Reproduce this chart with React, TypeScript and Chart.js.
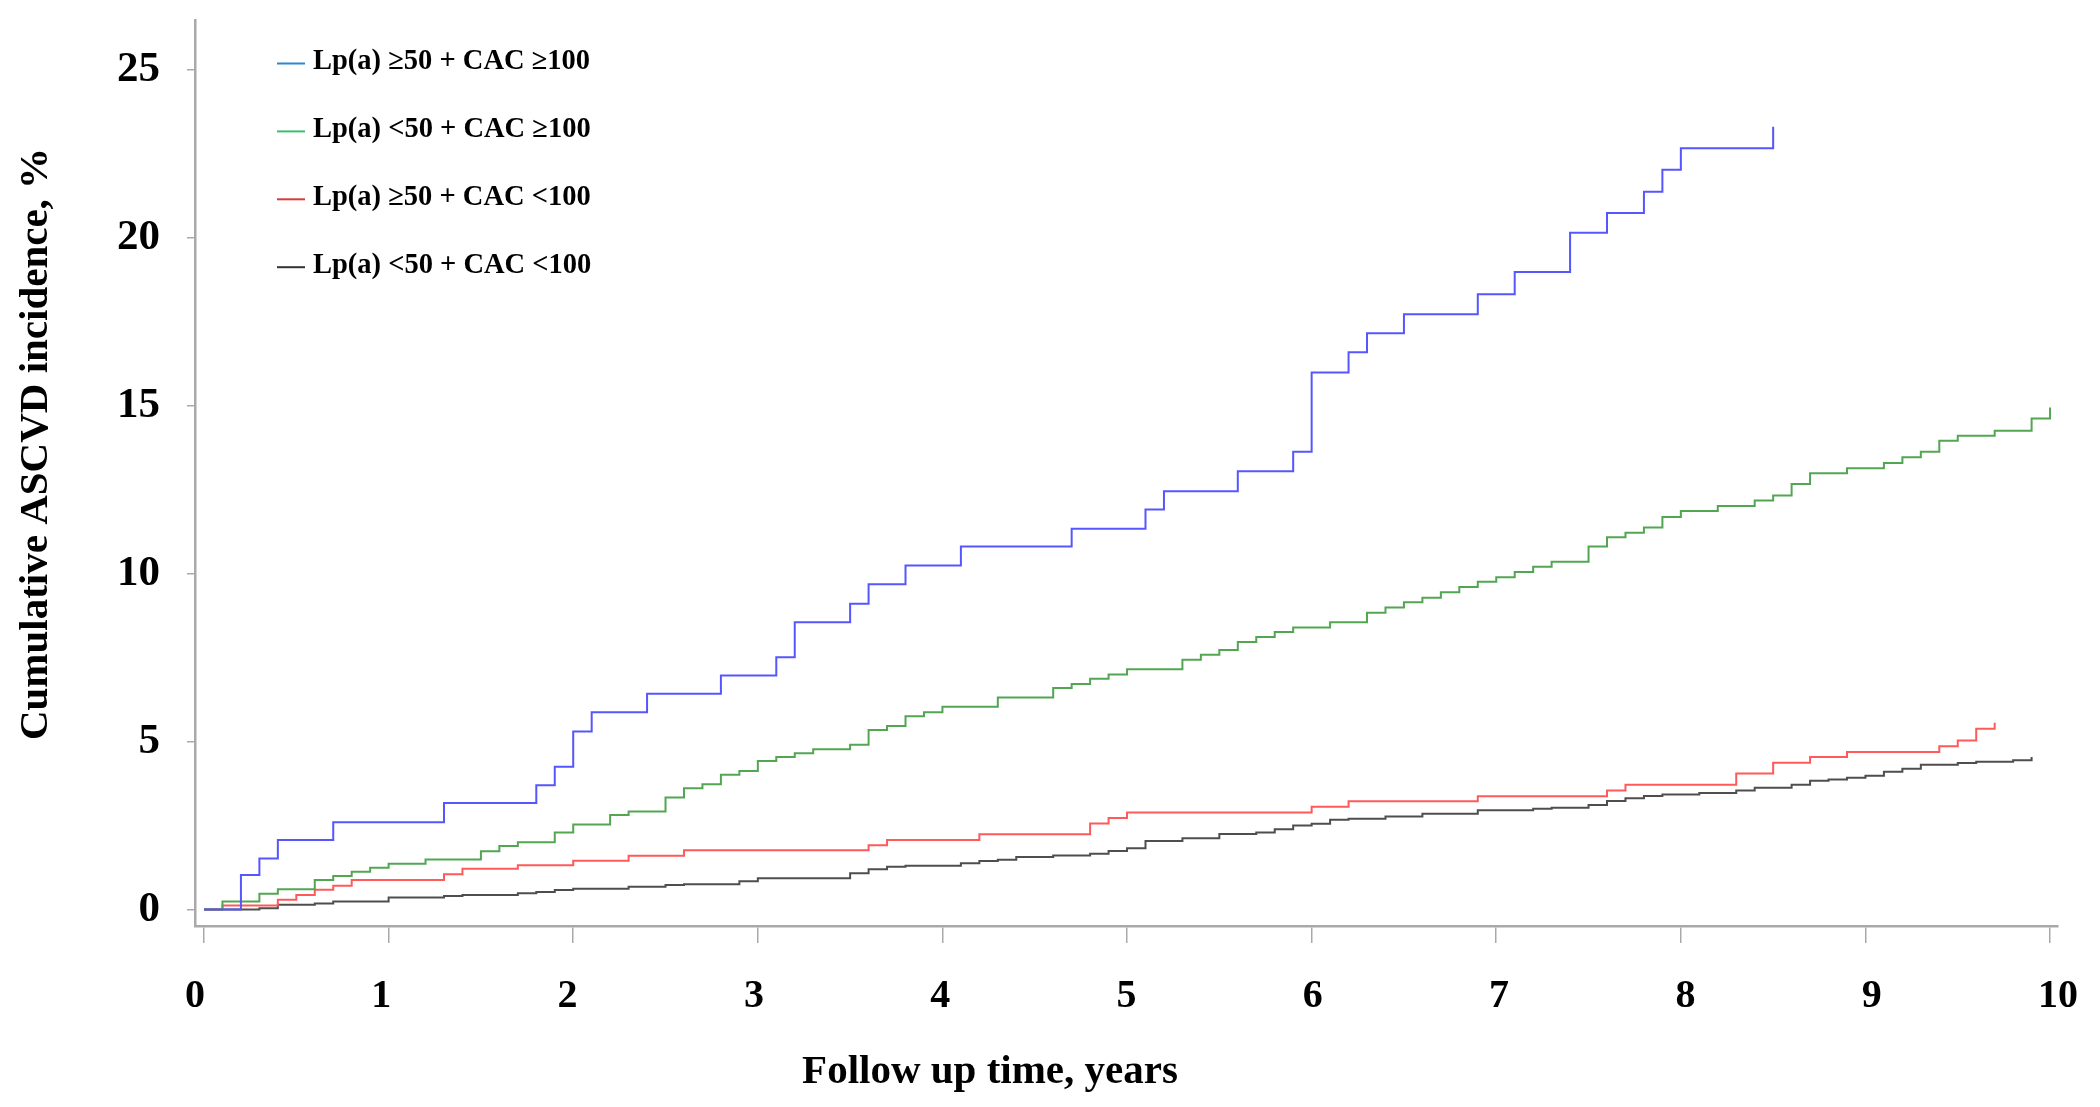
import React, { useEffect, useRef } from 'react';
import { Chart, registerables } from 'chart.js';

Chart.register(...registerables);

// ---- Data (years, cumulative incidence %) ----
const blueTimes = [0, 0.2, 0.3, 0.4, 0.7, 1.3, 1.8, 1.9, 2.0, 2.1, 2.4, 2.8, 3.1, 3.2, 3.5, 3.6, 3.8, 4.1, 4.7, 5.1, 5.2, 5.6, 5.9, 6.0, 6.2, 6.3, 6.5, 6.9, 7.1, 7.4, 7.6, 7.8, 7.9, 8.0, 8.5];
const blueValues = [0, 1.03, 1.52, 2.07, 2.6, 3.17, 3.7, 4.25, 5.3, 5.87, 6.42, 6.96, 7.51, 8.55, 9.1, 9.68, 10.24, 10.8, 11.33, 11.9, 12.45, 13.04, 13.62, 15.98, 16.58, 17.15, 17.71, 18.31, 18.97, 20.14, 20.73, 21.36, 22.01, 22.65, 23.29];

const greenTimes = [0, 0.1, 0.3, 0.4, 0.6, 0.7, 0.8, 0.9, 1.0, 1.2, 1.5, 1.6, 1.7, 1.9, 2.0, 2.2, 2.3, 2.5, 2.6, 2.7, 2.8, 2.9, 3.0, 3.1, 3.2, 3.3, 3.5, 3.6, 3.7, 3.8, 3.9, 4.0, 4.3, 4.6, 4.7, 4.8, 4.9, 5.0, 5.3, 5.4, 5.5, 5.6, 5.7, 5.8, 5.9, 6.1, 6.3, 6.4, 6.5, 6.6, 6.7, 6.8, 6.9, 7.0, 7.1, 7.2, 7.3, 7.5, 7.6, 7.7, 7.8, 7.9, 8.0, 8.2, 8.4, 8.5, 8.6, 8.7, 8.9, 9.1, 9.2, 9.3, 9.4, 9.5, 9.7, 9.9, 10.0];
const greenValues = [0, 0.24, 0.47, 0.6, 0.88, 1.0, 1.12, 1.24, 1.36, 1.49, 1.73, 1.89, 2.0, 2.29, 2.53, 2.81, 2.92, 3.33, 3.61, 3.73, 4.01, 4.12, 4.42, 4.54, 4.65, 4.77, 4.9, 5.34, 5.46, 5.75, 5.87, 6.03, 6.31, 6.59, 6.71, 6.87, 6.99, 7.15, 7.43, 7.58, 7.72, 7.96, 8.11, 8.26, 8.39, 8.55, 8.83, 8.99, 9.14, 9.28, 9.44, 9.6, 9.75, 9.89, 10.04, 10.2, 10.35, 10.8, 11.08, 11.21, 11.37, 11.68, 11.86, 12.01, 12.17, 12.32, 12.66, 12.98, 13.13, 13.29, 13.46, 13.62, 13.95, 14.1, 14.25, 14.61, 14.94];

const redTimes = [0, 0.1, 0.4, 0.5, 0.6, 0.7, 0.8, 1.3, 1.4, 1.7, 2.0, 2.3, 2.6, 3.6, 3.7, 4.2, 4.8, 4.9, 5.0, 6.0, 6.2, 6.9, 7.6, 7.7, 8.3, 8.5, 8.7, 8.9, 9.4, 9.5, 9.6, 9.7];
const redValues = [0, 0.12, 0.29, 0.43, 0.59, 0.71, 0.88, 1.05, 1.21, 1.32, 1.45, 1.6, 1.76, 1.91, 2.07, 2.24, 2.56, 2.72, 2.89, 3.06, 3.22, 3.37, 3.54, 3.71, 4.05, 4.37, 4.54, 4.69, 4.86, 5.03, 5.38, 5.56];

const blackTimes = [0, 0.3, 0.4, 0.6, 0.7, 1.0, 1.3, 1.4, 1.7, 1.8, 1.9, 2.0, 2.3, 2.5, 2.6, 2.9, 3.0, 3.5, 3.6, 3.7, 3.8, 4.1, 4.2, 4.3, 4.4, 4.6, 4.8, 4.9, 5.0, 5.1, 5.3, 5.5, 5.7, 5.8, 5.9, 6.0, 6.1, 6.2, 6.4, 6.6, 6.9, 7.2, 7.3, 7.5, 7.6, 7.7, 7.8, 7.9, 8.1, 8.3, 8.4, 8.6, 8.7, 8.8, 8.9, 9.0, 9.1, 9.2, 9.3, 9.5, 9.6, 9.8, 9.9];
const blackValues = [0, 0.04, 0.14, 0.18, 0.24, 0.36, 0.4, 0.43, 0.48, 0.52, 0.58, 0.62, 0.68, 0.73, 0.75, 0.84, 0.93, 1.08, 1.2, 1.27, 1.3, 1.38, 1.44, 1.48, 1.56, 1.61, 1.66, 1.74, 1.82, 2.04, 2.12, 2.25, 2.29, 2.39, 2.5, 2.55, 2.67, 2.7, 2.77, 2.85, 2.95, 3.0, 3.03, 3.11, 3.23, 3.31, 3.38, 3.42, 3.47, 3.54, 3.62, 3.71, 3.83, 3.87, 3.92, 3.98, 4.1, 4.19, 4.31, 4.36, 4.4, 4.44, 4.54];

const seriesLabels = [
  'Lp(a) \u226550 + CAC \u2265100',
  'Lp(a) <50 + CAC \u2265100',
  'Lp(a) \u226550 + CAC <100',
  'Lp(a) <50 + CAC <100',
];
const xTickValues = [0, 1, 2, 3, 4, 5, 6, 7, 8, 9, 10];
const xTickLabels = ['0', '1', '2', '3', '4', '5', '6', '7', '8', '9', '10'];
const yTickValues = [0, 5, 10, 15, 20, 25];
const xAxisTitle = 'Follow up time, years';
const yAxisTitle = 'Cumulative ASCVD incidence, %';

// ---- Styles ----
const lineColors = ['#5656ff', '#52a652', '#ff5a5a', '#4e4e4e'];
const legendColors = ['#2f86d2', '#3cbf6c', '#d93a3a', '#333333'];
const FONT = '"Liberation Serif", "Times New Roman", serif';
const AXIS_GREY = '#a9a9a9';

const toPoints = (t: number[], v: number[]) => t.map((x, i) => ({ x, y: v[i] }));

export default function App() {
  const canvasRef = useRef<HTMLCanvasElement | null>(null);

  useEffect(() => {
    const canvas = canvasRef.current;
    if (!canvas) return;

    const overlay = {
      id: 'overlayText',
      afterDraw(chart: any) {
        const ctx = chart.ctx;
        const area = chart.chartArea;
        ctx.save();
        // legend
        ctx.font = `bold 28.5px ${FONT}`;
        ctx.textAlign = 'left';
        ctx.textBaseline = 'middle';
        seriesLabels.forEach((label, i) => {
          const y = area.top + 42 + i * 67.9;
          ctx.strokeStyle = legendColors[i];
          ctx.lineWidth = 2;
          ctx.beginPath();
          ctx.moveTo(area.left + 82, y + 1.5);
          ctx.lineTo(area.left + 110, y + 1.5);
          ctx.stroke();
          ctx.fillStyle = '#000';
          ctx.fillText(label, area.left + 118, y);
        });
        // x axis title
        ctx.font = `bold 41px ${FONT}`;
        ctx.textAlign = 'center';
        ctx.fillStyle = '#000';
        ctx.fillText(xAxisTitle, 990, 1072);
        // y axis title
        ctx.translate(36, 444);
        ctx.rotate(-Math.PI / 2);
        ctx.fillText(yAxisTitle, 0, 0);
        ctx.restore();
      },
    };

    const chart = new Chart(canvas, {
      type: 'line',
      data: {
        datasets: [
          { label: seriesLabels[0], data: toPoints(blueTimes, blueValues), borderColor: lineColors[0] },
          { label: seriesLabels[1], data: toPoints(greenTimes, greenValues), borderColor: lineColors[1] },
          { label: seriesLabels[2], data: toPoints(redTimes, redValues), borderColor: lineColors[2] },
          { label: seriesLabels[3], data: toPoints(blackTimes, blackValues), borderColor: lineColors[3] },
        ].map((d) => ({
          ...d,
          stepped: true,
          borderWidth: 2,
          pointRadius: 0,
          fill: false,
          tension: 0,
          xAxisID: 'x',
          yAxisID: 'y',
        })) as any,
      },
      options: {
        responsive: false,
        animation: false,
        devicePixelRatio: 1,
        layout: { padding: { top: 20, right: 42, bottom: 0, left: 0 } },
        plugins: {
          legend: { display: false },
          tooltip: { enabled: false },
          title: { display: false },
        },
        scales: {
          x: {
            type: 'linear',
            position: 'bottom',
            weight: 0,
            min: -0.0488,
            max: 10.043,
            afterBuildTicks: (s: any) => {
              s.ticks = xTickValues.map((v) => ({ value: v }));
            },
            afterFit: (s: any) => {
              s.height = 17;
              s.paddingLeft = 0;
              s.paddingRight = 0;
            },
            ticks: { display: false },
            grid: {
              drawOnChartArea: false,
              drawTicks: true,
              tickLength: 17,
              color: AXIS_GREY,
              tickColor: AXIS_GREY,
              lineWidth: 1.5,
            },
            border: { display: true, color: AXIS_GREY, width: 2.5 },
          },
          x2: {
            type: 'linear',
            position: 'bottom',
            weight: 1,
            min: 0,
            max: 10,
            afterBuildTicks: (s: any) => {
              s.ticks = xTickValues.map((v) => ({ value: v }));
            },
            afterFit: (s: any) => {
              s.height = 164;
              s.paddingLeft = 0;
              s.paddingRight = 0;
            },
            ticks: {
              padding: 30,
              autoSkip: false,
              maxRotation: 0,
              color: '#000',
              font: { family: FONT, size: 40, weight: 'bold' },
              callback: (v: any) => xTickLabels[xTickValues.indexOf(Number(v))] ?? '',
            },
            grid: { display: false, drawTicks: false, drawOnChartArea: false },
            border: { display: false },
          },
          y: {
            type: 'linear',
            position: 'left',
            min: -0.491,
            max: 26.47,
            afterBuildTicks: (s: any) => {
              s.ticks = yTickValues.map((v) => ({ value: v }));
            },
            afterFit: (s: any) => {
              s.width = 195;
              s.paddingTop = 0;
              s.paddingBottom = 0;
            },
            ticks: {
              padding: 27,
              autoSkip: false,
              color: '#000',
              font: { family: FONT, size: 43, weight: 'bold' },
            },
            grid: {
              drawOnChartArea: false,
              drawTicks: true,
              tickLength: 8,
              color: AXIS_GREY,
              tickColor: AXIS_GREY,
              lineWidth: 1.5,
            },
            border: { display: true, color: AXIS_GREY, width: 2.5 },
          },
        },
      } as any,
      plugins: [overlay],
    });

    return () => chart.destroy();
  }, []);

  return (
    <div style={{ position: 'absolute', left: 0, top: 0, width: 2100, height: 1107, background: '#fff' }}>
      <canvas ref={canvasRef} width={2100} height={1107} style={{ display: 'block' }} />
    </div>
  );
}
